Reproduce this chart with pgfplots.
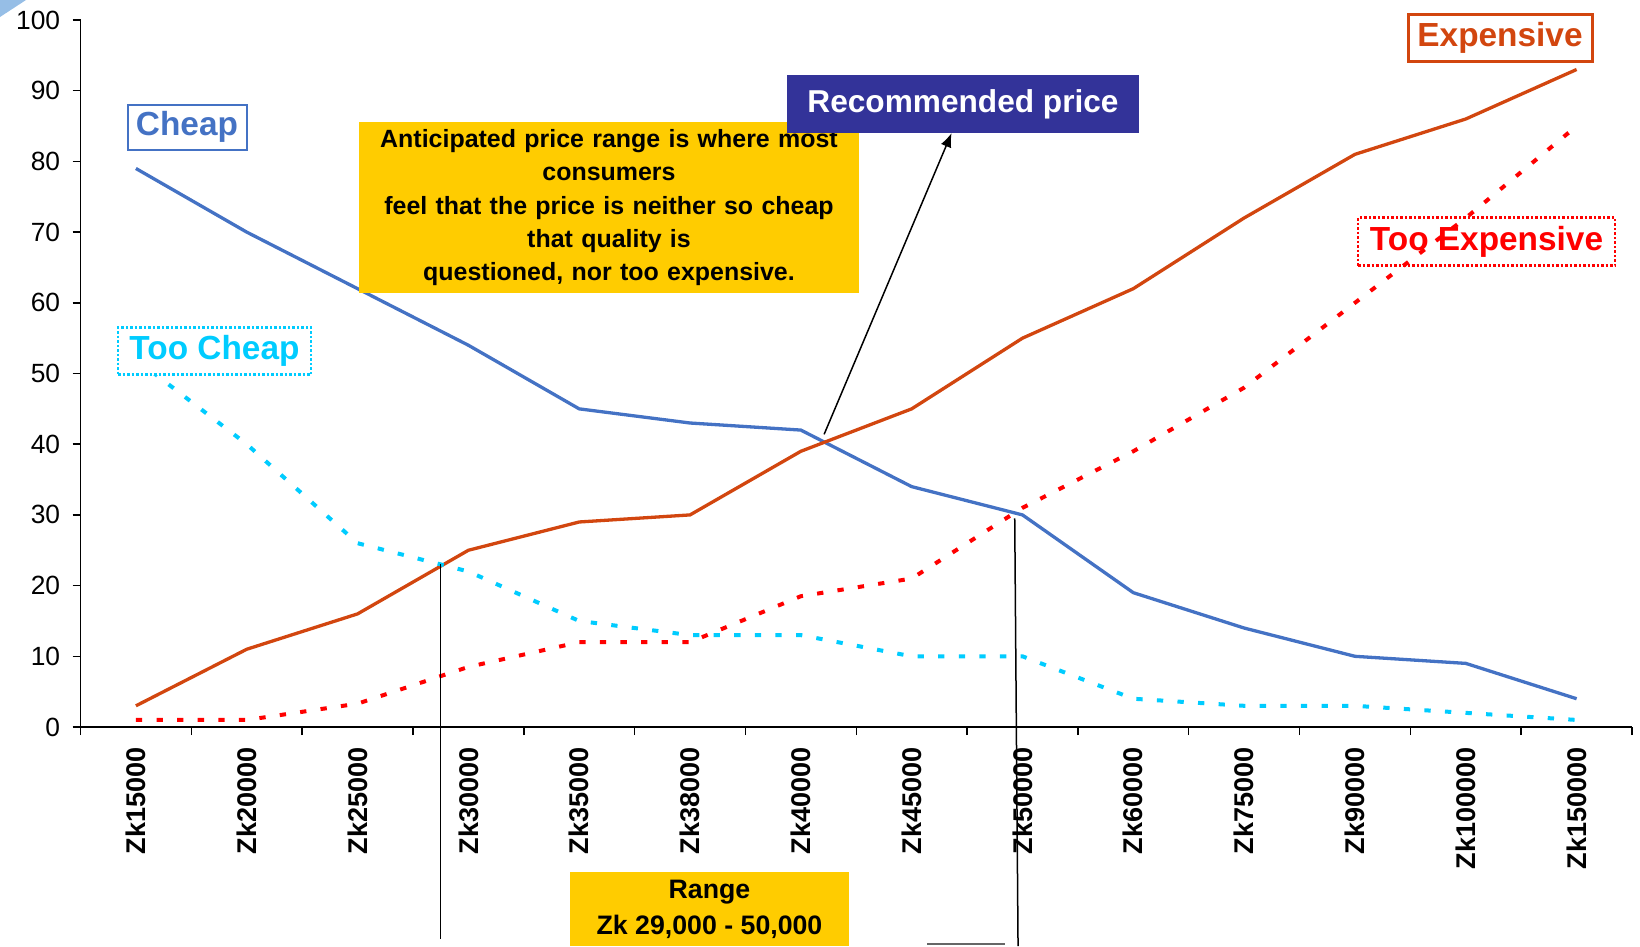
\documentclass[border=0pt]{standalone}
\usepackage{pgfplots}
\pgfplotsset{compat=1.18}
\usepackage{fontspec}
\setmainfont{Liberation Sans}
\usetikzlibrary{arrows.meta}
\definecolor{cheap}{RGB}{68,114,196}
\definecolor{expc}{RGB}{210,70,15}
\definecolor{tcheap}{RGB}{0,204,255}
\definecolor{texp}{RGB}{255,0,0}
\definecolor{yel}{RGB}{255,204,0}
\definecolor{navyb}{RGB}{51,51,153}
\definecolor{corner}{RGB}{150,190,230}
\begin{document}
\begin{tikzpicture}
% full-size frame 1640x946 px, 1px = 0.1mm, axis origin at px (80.5,727)
\useasboundingbox (-8.05mm,-21.9mm) rectangle (155.95mm,72.7mm);
\begin{axis}[
  at={(0,0)}, anchor=south west,
  scale only axis, width=155.15mm, height=70.7mm,
  xmin=-0.5, xmax=13.5, ymin=0, ymax=100,
  axis x line=bottom, axis y line=left,
  axis line style={-, line width=0.15mm, black},
  xtick={-0.5,0.5,...,13.5},
  x tick label as interval,
  xticklabels={Zk15000,Zk20000,Zk25000,Zk30000,Zk35000,Zk38000,Zk40000,Zk45000,Zk50000,Zk60000,Zk75000,Zk90000,Zk100000,Zk150000,{}},
  ytick={0,10,...,100},
  tick align=outside,
  major tick length=0.8mm,
  tick style={line width=0.15mm, black},
  xticklabel style={rotate=90, anchor=east, font=\bfseries\fontsize{7.7}{9}\selectfont},
  yticklabel style={font=\fontsize{7.5}{9}\selectfont},
  /pgf/number format/assume math mode=true,
  clip=false,
]
\addplot[cheap, line width=0.33mm] coordinates {(0,79)(1,70)(2,62)(3,54)(4,45)(5,43)(6,42)(7,34)(8,30)(9,19)(10,14)(11,10)(12,9)(13,4)};
\addplot[expc, line width=0.33mm] coordinates {(0,3)(1,11)(2,16)(3,25)(4,29)(5,30)(6,39)(7,45)(8,55)(9,62)(10,72)(11,81)(12,86)(13,93)};
\addplot[tcheap, line width=0.4mm, dash pattern=on 0.63mm off 1.43mm] coordinates {(0,52)(1,40)(2,26)(3,22)(4,15)(5,13)(6,13)(7,10)(8,10)(9,4)(10,3)(11,3)(12,2)(13,1)};
\addplot[texp, line width=0.4mm, dash pattern=on 0.63mm off 1.43mm] coordinates {(0,1)(1,1)(2,3.3)(3,8.5)(4,12)(5,12)(6,18.5)(7,21)(8,31)(9,39)(10,48)(11,60)(12,72)(13,85)};
\draw[line width=0.15mm] (axis cs:2.75,23) -- (axis cs:2.75,-30);
\draw[line width=0.15mm] (axis cs:7.93,29.5) -- (axis cs:7.96,-31);
\draw[line width=0.15mm, -{Latex[length=1.4mm,width=1.1mm]}] (axis cs:6.21,41.4) -- (axis cs:7.36,84);
\end{axis}
\begin{scope}[shift={(-8.05mm,72.7mm)},x=0.1mm,y=-0.1mm]
\fill[corner] (0,0) -- (26,0) -- (0,17) -- cycle;
\node[draw=cheap, line width=0.2mm, minimum width=11.9mm, minimum height=4.5mm, inner sep=0pt, text=cheap, font=\bfseries\fontsize{9.5}{11}\selectfont] at (187,127) {Cheap};
\node[fill=white, draw=tcheap, line width=0.25mm, dash pattern=on 0.25mm off 0.2mm, minimum width=19.3mm, minimum height=4.7mm, inner sep=0pt, text=tcheap, font=\bfseries\fontsize{9.5}{11}\selectfont] at (214.5,351) {Too Cheap};
\node[fill=yel, minimum width=50mm, minimum height=17.05mm, inner sep=0pt, text width=49mm, align=center, font=\bfseries\fontsize{7.1}{9.5}\selectfont] at (609,207.6) {Anticipated price range is where most\\ consumers\\ feel that the price is neither so cheap\\ that quality is\\ questioned, nor too expensive.};
\node[fill=navyb, minimum width=35.25mm, minimum height=5.75mm, inner sep=0pt, text=white, font=\bfseries\fontsize{9}{11}\selectfont] at (963,104) {Recommended price};
\node[draw=expc, line width=0.3mm, minimum width=18.4mm, minimum height=4.7mm, inner sep=0pt, text=expc, font=\bfseries\fontsize{9.5}{11}\selectfont] at (1500,38) {Expensive};
\node[draw=texp, line width=0.25mm, dash pattern=on 0.25mm off 0.2mm, minimum width=25.7mm, minimum height=4.8mm, inner sep=0pt, text=texp, font=\bfseries\fontsize{9.5}{11}\selectfont] at (1486.5,241.6) {Too Expensive};
\fill[yel] (570,872) rectangle (849,946);
\node[font=\bfseries\fontsize{7.6}{9}\selectfont] at (709.5,892) {Range};
\node[font=\bfseries\fontsize{7.6}{9}\selectfont] at (709.5,927) {Zk 29,000 - 50,000};
\draw[black!60, line width=0.2mm] (927,944) -- (1005,944);
\end{scope}
\end{tikzpicture}
\end{document}
